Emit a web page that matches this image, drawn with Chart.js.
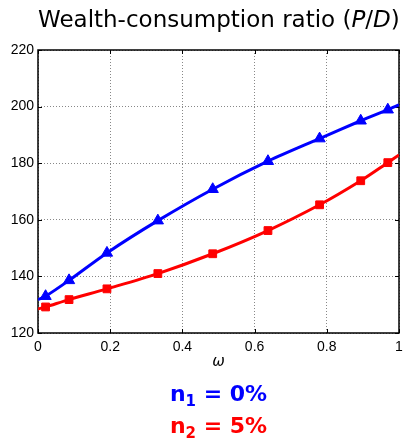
<!DOCTYPE html>
<html>

<head>
  <title>Wealth-consumption ratio</title>
  <script type="text/javascript" src="https://cdn.jsdelivr.net/npm/chart.js"></script>
  <style>
    body { margin: 0; background: #fff; }
    #page { position: relative; width: 404px; height: 439px; overflow: hidden; }
    #chart-container { position: absolute; left: 0; top: 0; width: 404px; height: 439px; }
    #title {
      position: absolute; left: 38px; width: 361px; top: 6px;
      text-align: center; font-family: "DejaVu Sans"; font-size: 23px; color: #000;
      white-space: nowrap;
    }
    #legend {
      position: absolute; left: 38px; width: 361px; top: 378px;
      text-align: center; font-family: "DejaVu Sans"; font-weight: bold; font-size: 22px;
      line-height: 32px;
    }
    #legend sub { font-size: 15px; vertical-align: -5px; line-height: 0; }
  </style>
</head>

<body>
  <div id="page">
    <div id="chart-container">
      <canvas id="ratio-chart"></canvas>
    </div>
    <div id="title">Wealth-consumption ratio (<i>P</i>/<i>D</i>)</div>
    <div id="legend">
      <div style="color:#0000ff">n<sub>1</sub> = 0%</div>
      <div style="color:#ff0000">n<sub>2</sub> = 5%</div>
    </div>
  </div>

  <script type="text/javascript">
    // omega grid: the two ends carry no marker
    const omega = [0, 0.021, 0.086, 0.191, 0.332, 0.484, 0.637, 0.780, 0.894, 0.969, 1];
    const ratioN1 = [131.8, 133.0, 138.6, 148.3, 159.7, 170.8, 180.7, 188.7, 195.0, 198.9, 200.6];
    const ratioN2 = [128.5, 129.2, 131.8, 135.6, 141.0, 148.0, 156.2, 165.3, 173.8, 180.2, 182.9];
    const xTicks = [0, 0.2, 0.4, 0.6, 0.8, 1];
    const yTicks = [120, 140, 160, 180, 200, 220];

    function ToPoints(xs, ys) {
        var pts = [];
        for (var i = 0; i < xs.length; i += 1) {
            pts.push({x: xs[i], y: ys[i]});
        }
        return pts;
    }

    function MarkerRadius(r) {
        return function(ctx) {
            return (ctx.dataIndex === 0 || ctx.dataIndex === omega.length - 1) ? 0 : r;
        };
    }

    // MATLAB style box with inward ticks
    const boxPlugin = {
        id: 'boxPlugin',
        beforeDatasetsDraw(chart) {
            const ctx = chart.ctx;
            const a = chart.chartArea;
            const x = chart.scales.x;
            const y = chart.scales.y;
            ctx.save();
            ctx.strokeStyle = '#000';
            ctx.lineWidth = 1;
            ctx.beginPath();
            for (const v of xTicks) {
                const px = Math.round(x.getPixelForValue(v)) + 0.5;
                ctx.moveTo(px, a.bottom); ctx.lineTo(px, a.bottom - 4);
                ctx.moveTo(px, a.top); ctx.lineTo(px, a.top + 4);
            }
            for (const v of yTicks) {
                const py = Math.round(y.getPixelForValue(v)) + 0.5;
                ctx.moveTo(a.left, py); ctx.lineTo(a.left + 4, py);
                ctx.moveTo(a.right, py); ctx.lineTo(a.right - 4, py);
            }
            ctx.stroke();
            ctx.lineWidth = 1.5;
            ctx.strokeRect(a.left, a.top, a.right - a.left, a.bottom - a.top);
            ctx.restore();
        }
    };

    const tickFont = {family: '"Liberation Sans"', size: 14};

    const chart = new Chart(document.getElementById('ratio-chart'), {
        type: 'line',
        data: {
            datasets: [
                {
                    label: 'n1 = 0%',
                    data: ToPoints(omega, ratioN1),
                    borderColor: '#0000ff',
                    backgroundColor: '#0000ff',
                    borderWidth: 3,
                    tension: 0.3,
                    pointStyle: 'triangle',
                    pointRadius: MarkerRadius(6.5),
                    pointBorderWidth: 1
                },
                {
                    label: 'n2 = 5%',
                    data: ToPoints(omega, ratioN2),
                    borderColor: '#ff0000',
                    backgroundColor: '#ff0000',
                    borderWidth: 3,
                    tension: 0.3,
                    pointStyle: 'rect',
                    pointRadius: MarkerRadius(5.5),
                    pointBorderWidth: 1
                }
            ]
        },
        options: {
            responsive: true,
            maintainAspectRatio: false,
            animation: false,
            layout: {
                padding: {top: 50, right: 5, bottom: 66, left: 0}
            },
            scales: {
                x: {
                    type: 'linear',
                    min: 0,
                    max: 1,
                    afterBuildTicks: function(scale) {
                        scale.ticks = xTicks.map(v => ({value: v}));
                    },
                    afterFit: function(scale) {
                        scale.height = 40;
                        scale.paddingLeft = 0;
                        scale.paddingRight = 0;
                    },
                    ticks: {
                        font: tickFont,
                        color: '#000',
                        padding: 6,
                        maxRotation: 0,
                        callback: v => String(v)
                    },
                    grid: {
                        color: '#888',
                        drawTicks: false
                    },
                    border: {display: false, dash: [1, 2]},
                    title: {
                        display: true,
                        text: 'ω',
                        color: '#000',
                        font: {family: '"DejaVu Sans"', size: 15, style: 'italic'},
                        padding: {top: 0, bottom: 2}
                    }
                },
                y: {
                    min: 120,
                    max: 220,
                    afterBuildTicks: function(scale) {
                        scale.ticks = yTicks.map(v => ({value: v}));
                    },
                    afterFit: function(scale) {
                        scale.width = 38;
                        scale.paddingTop = 0;
                        scale.paddingBottom = 0;
                    },
                    ticks: {
                        font: tickFont,
                        color: '#000',
                        padding: 4
                    },
                    grid: {
                        color: '#888',
                        drawTicks: false
                    },
                    border: {display: false, dash: [1, 2]}
                }
            },
            plugins: {
                legend: {display: false},
                tooltip: {enabled: false}
            }
        },
        plugins: [boxPlugin]
    });
  </script>
</body>

</html>
